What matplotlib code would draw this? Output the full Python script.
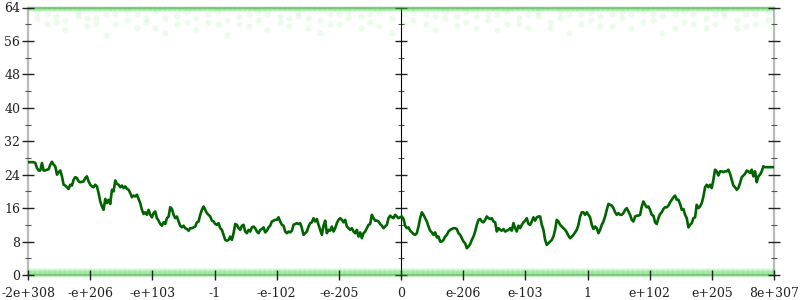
import numpy as np
import matplotlib
matplotlib.use("Agg")
import matplotlib.pyplot as plt
from matplotlib.ticker import MultipleLocator

# ---------------- data ----------------
tick_labels = ["-2e+308", "-e+206", "-e+103", "-1", "-e-102", "-e-205", "0",
               "e-206", "e-103", "1", "e+102", "e+205", "8e+307"]
tick_pos = list(range(-6, 7))

# average bits of error, left half (negative inputs)
err_left = [27.0, 27.0, 27.0, 27.0, 26.8, 25.6, 25.0, 25.0, 26.8, 25.0, 25.0, 25.2, 25.3, 26.4, 27.1, 26.4,
            26.0, 24.0, 24.6, 25.0, 23.6, 21.6, 21.4, 21.0, 20.6, 21.6, 21.4, 22.8, 23.4, 23.2, 22.4, 22.2,
            22.3, 22.4, 23.2, 23.6, 22.4, 21.6, 21.2, 21.0, 21.6, 21.2, 19.6, 17.6, 16.4, 15.6, 18.2, 17.2,
            18.0, 17.0, 20.4, 20.0, 22.6, 21.8, 21.6, 21.0, 21.4, 20.8, 21.2, 20.6, 20.4, 19.6, 18.6, 19.0,
            18.8, 19.2, 18.2, 17.2, 15.6, 14.6, 15.0, 14.4, 15.6, 14.4, 13.8, 14.8, 15.2, 13.6, 13.0, 12.2,
            11.8, 12.6, 12.2, 13.6, 14.0, 16.2, 15.8, 14.4, 13.6, 14.0, 12.8, 11.8, 11.4, 11.8, 11.2, 11.0,
            10.6, 11.2, 11.2, 11.4, 11.6, 12.6, 12.8, 14.4, 15.6, 16.4, 15.6, 14.8, 14.4, 14.0, 13.0, 12.8,
            12.2, 12.0, 12.4, 11.2, 10.8, 9.6, 8.4, 8.2, 8.4, 9.2, 8.4, 10.0, 12.2, 12.0, 11.2, 10.8,
            11.8, 12.0, 10.4, 10.0, 10.8, 10.4, 11.4, 11.6, 11.2, 10.4, 10.0, 10.8, 11.0, 11.4, 10.2, 10.6,
            11.4, 11.8, 12.8, 13.0, 13.2, 13.2, 13.8, 12.8, 12.0, 11.8, 10.4, 10.0, 10.4, 10.2, 10.6, 12.0,
            12.2, 12.4, 12.2, 12.4, 11.2, 9.6, 10.0, 10.4, 11.6, 12.4, 12.6, 13.6, 12.8, 13.4, 12.0, 10.8,
            9.6, 11.8, 13.0, 10.0, 10.8, 10.6, 11.6, 10.4, 11.2, 12.4, 13.2, 13.6, 13.2, 12.6, 13.2, 11.6,
            11.2, 10.8, 11.2, 10.4, 10.0, 10.8, 9.2, 10.2, 8.8, 10.0, 10.4, 11.2, 12.0, 12.2, 14.4, 13.6,
            13.0, 13.0, 12.8, 12.2, 11.8, 11.2, 11.6, 12.0, 13.6, 14.2, 13.8, 13.6, 14.4, 14.0, 13.6, 13.8]

# average bits of error, right half (positive inputs)
err_right = [14.0, 13.4, 11.8, 11.2, 11.4, 10.6, 10.2, 9.8, 9.6, 10.0, 11.6, 13.6, 15.0, 14.4, 13.6, 12.8,
             11.6, 10.6, 10.2, 9.6, 10.2, 9.0, 9.2, 8.0, 8.0, 8.4, 9.2, 9.6, 10.4, 10.8, 11.0, 11.2,
             11.2, 11.0, 10.0, 9.6, 8.8, 8.0, 7.6, 6.4, 6.8, 7.4, 8.4, 9.2, 10.4, 12.0, 13.2, 13.4,
             12.8, 12.6, 13.2, 14.0, 13.6, 13.4, 13.6, 12.8, 12.6, 10.4, 11.2, 10.8, 10.6, 11.0, 10.4, 10.6,
             10.8, 11.2, 10.6, 12.4, 11.2, 10.4, 11.8, 11.2, 12.0, 12.6, 13.0, 13.6, 12.2, 12.0, 12.8, 13.8,
             13.0, 13.8, 14.0, 14.0, 12.0, 10.8, 8.4, 7.2, 7.6, 8.0, 8.4, 9.2, 10.8, 13.2, 12.8, 12.0,
             11.6, 11.2, 10.8, 10.2, 9.4, 8.8, 9.2, 9.6, 10.2, 10.8, 12.0, 14.0, 15.0, 15.0, 14.4, 15.0,
             14.4, 13.8, 12.0, 11.0, 11.6, 11.2, 10.0, 10.8, 12.0, 12.8, 14.0, 15.6, 17.0, 16.8, 16.6, 16.0,
             15.0, 14.4, 14.8, 14.4, 14.4, 14.8, 15.6, 16.0, 15.2, 14.4, 13.2, 12.8, 14.0, 14.2, 14.2, 14.4,
             16.4, 17.6, 16.8, 16.2, 16.4, 15.6, 14.4, 14.2, 12.6, 12.2, 13.6, 14.6, 15.0, 15.8, 16.2, 16.2,
             16.6, 17.4, 18.0, 18.6, 19.0, 18.0, 18.0, 17.0, 15.6, 15.8, 14.4, 13.6, 11.4, 12.0, 12.4, 13.6,
             13.8, 16.8, 16.0, 16.4, 17.2, 18.8, 21.0, 21.6, 21.0, 21.6, 20.8, 22.8, 25.2, 24.8, 23.8, 24.8,
             24.8, 24.6, 24.8, 24.8, 25.2, 24.2, 22.8, 21.4, 21.0, 20.4, 20.8, 22.0, 23.4, 23.8, 24.2, 25.0,
             24.8, 24.4, 25.2, 23.6, 24.8, 22.2, 23.6, 24.0, 24.8, 26.0, 25.8, 25.8, 25.8, 25.8, 25.8, 25.8]

err_line = err_left + err_right

# sparse cloud of high-error sample points near the top
cloud_x = [-5.85, -5.7, -5.55, -5.4, -5.2, -5.05, -4.9, -4.75, -4.6, -4.4, -4.25, -4.1, -3.95, -3.8,
           -3.6, -3.45, -3.3, -3.1, -2.95, -2.8, -2.6, -2.45, -2.3, -2.15, -1.95, -1.8, -1.65, -1.5,
           -1.3, -1.15, -1.0, -0.85, -0.65, -0.5, -0.35, -0.15, 0.05, 0.2, 0.4, 0.55, 0.7, 0.9, 1.05,
           1.2, 1.4, 1.55, 1.7, 1.9, 2.05, 2.2, 2.4, 2.55, 2.7, 2.9, 3.05, 3.2, 3.4, 3.55, 3.7, 3.9,
           4.05, 4.2, 4.4, 4.55, 4.7, 4.9, 5.05, 5.2, 5.4, 5.55, 5.7, 5.9]
cloud_y1 = [61.5, 62.5, 60.5, 61.0, 62.0, 59.5, 61.5, 62.5, 60.0, 61.0, 62.5, 60.5, 59.0, 61.5,
            62.0, 60.5, 61.5, 62.5, 60.0, 61.0, 62.0, 59.5, 61.0, 62.5, 60.5, 61.5, 62.0, 59.0,
            61.0, 62.5, 60.0, 61.5, 62.0, 60.5, 59.5, 61.5, 62.5, 61.0, 60.0, 62.0, 61.5, 59.5, 60.5,
            62.0, 61.0, 62.5, 60.0, 61.5, 59.0, 62.0, 60.5, 61.5, 62.5, 60.0, 61.0, 62.0, 59.5, 61.5,
            62.5, 60.5, 61.0, 62.0, 59.0, 60.5, 62.5, 61.5, 60.0, 62.0, 61.0, 59.5, 62.5, 61.0]
cloud_y2 = [63.0, 60.0, 62.0, 58.5, 63.0, 61.5, 60.0, 57.5, 62.5, 63.0, 59.0, 61.5, 63.0, 58.0,
            60.0, 63.0, 58.5, 60.5, 63.0, 57.5, 60.0, 62.5, 63.0, 58.5, 62.0, 59.5, 63.0, 61.5,
            58.0, 60.0, 62.5, 63.0, 59.0, 62.5, 63.0, 58.0, 60.0, 63.0, 62.5, 58.5, 63.0, 62.0, 63.0,
            59.0, 62.5, 58.5, 63.0, 60.0, 62.5, 63.0, 59.0, 63.0, 58.0, 62.5, 63.0, 59.5, 62.5, 63.0,
            59.0, 63.0, 62.5, 58.0, 62.5, 63.0, 60.0, 59.0, 62.5, 63.0, 59.0, 62.5, 60.0, 63.0]

# sample points with exact / near-exact results and with full error
low_levels = [0.0, 0.4, 0.8, 1.2]
high_levels = [64.0, 63.6]

# ---------------- plot ----------------
plt.rcParams['font.family'] = ['DejaVu Serif']
fig = plt.figure(figsize=(8, 3), dpi=100)
ax = fig.add_axes([28 / 800, 25 / 300, 746 / 800, 267.5 / 300])

n = len(err_line)
line_x = np.linspace(-5.99, 5.99, n)

pt_color = (0.2, 0.85, 0.2)
for lv in low_levels:
    ax.scatter(line_x, np.full(n, lv), s=10, color=pt_color, alpha=0.10,
               linewidths=0, zorder=1, clip_on=False)
for lv in high_levels:
    ax.scatter(line_x, np.full(n, lv), s=10, color=pt_color, alpha=0.12,
               linewidths=0, zorder=1, clip_on=False)
ax.scatter(cloud_x, cloud_y1, s=20, color=pt_color, alpha=0.09, linewidths=0, zorder=1)
ax.scatter(cloud_x, cloud_y2, s=20, color=pt_color, alpha=0.09, linewidths=0, zorder=1)

ax.plot(line_x, err_line, color='#006400', lw=1.9, zorder=3)

ax.set_xlim(-6, 6)
ax.set_ylim(0, 64)

spine_col = '#bbbbbb'
for s in ['left', 'right', 'top', 'bottom']:
    ax.spines[s].set_color(spine_col)
    ax.spines[s].set_linewidth(1.6)
    ax.spines[s].set_zorder(0)

ax.set_xticks(tick_pos)
ax.set_xticklabels(tick_labels)
ax.yaxis.set_major_locator(MultipleLocator(8))
ax.yaxis.set_minor_locator(MultipleLocator(4))
ax.tick_params(axis='y', which='major', direction='inout', length=9, width=1.0,
               color='#222222', labelsize=9, pad=1, right=True, left=True)
ax.tick_params(axis='y', which='minor', direction='inout', length=5, width=0.8,
               color='#555555', right=True, left=True)
ax.tick_params(axis='x', which='major', direction='inout', length=7, width=1.0,
               color='#222222', labelsize=9, pad=5)
for lab in ax.get_xticklabels() + ax.get_yticklabels():
    lab.set_color('#222222')

# middle vertical axis at zero
sec = ax.secondary_yaxis(0.5)
sec.spines['left'].set_color(spine_col)
sec.spines['left'].set_linewidth(1.6)
sec.yaxis.set_major_locator(MultipleLocator(8))
sec.yaxis.set_minor_locator(MultipleLocator(4))
sec.tick_params(axis='y', which='major', direction='inout', length=9, width=1.0,
                color='#222222', labelleft=False, labelright=False)
sec.tick_params(axis='y', which='minor', direction='inout', length=5, width=0.8,
                color='#555555')
sec.set_yticklabels([])

fig.savefig('out.png', dpi=100)
